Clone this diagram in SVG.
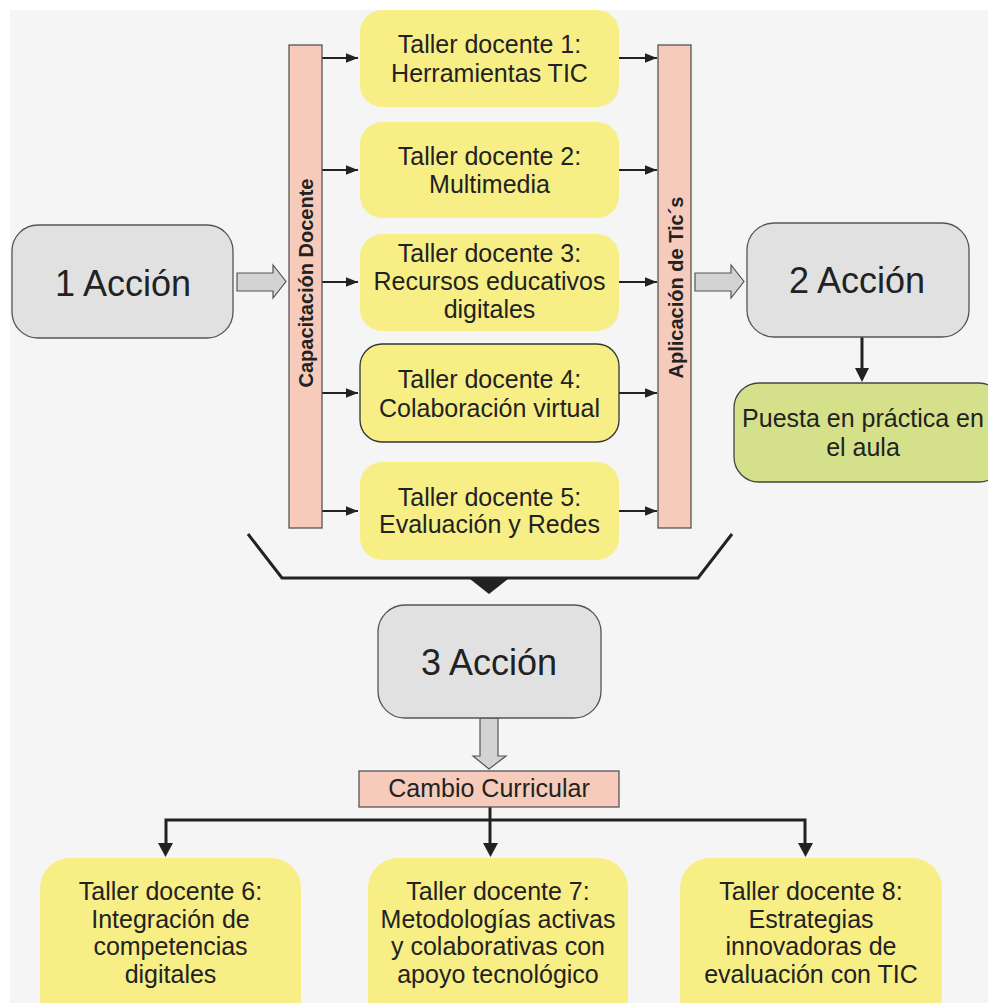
<svg xmlns="http://www.w3.org/2000/svg" width="988" height="1003" viewBox="0 0 988 1003">
<defs>
<style>
text{font-family:"Liberation Sans",Arial,sans-serif;fill:#222;text-anchor:middle}
.t{font-size:25px}
.big{font-size:36px}
.bar{font-size:20px;font-weight:bold}
.gray{fill:#e1e1e2;stroke:#555;stroke-width:1.3}
.yel{fill:#f8ee86}
.sal{fill:#f6cbbb;stroke:#555;stroke-width:1.3}
.grn{fill:#d5e08a;stroke:#444;stroke-width:1.3}
.blk{fill:#d3d3d4;stroke:#555;stroke-width:1.2}
.thin{stroke:#222;stroke-width:2;fill:none;marker-end:url(#a)}
.thick{stroke:#222;stroke-width:3;fill:none}
</style>
<marker id="a" viewBox="0 0 10 10" refX="10" refY="5" markerWidth="6" markerHeight="6" orient="auto" markerUnits="strokeWidth">
<path d="M0,1 L10,5 L0,9 Z" fill="#222"/>
</marker>
</defs>
<rect x="0" y="0" width="988" height="1003" fill="#ffffff"/>
<rect x="10" y="10" width="978" height="993" fill="#f5f5f6"/>

<g id="connectors">
<line class="thin" x1="322" y1="58" x2="358" y2="58"/>
<line class="thin" x1="322" y1="170" x2="358" y2="170"/>
<line class="thin" x1="322" y1="282" x2="358" y2="282"/>
<line class="thin" x1="322" y1="393" x2="358" y2="393"/>
<line class="thin" x1="322" y1="511" x2="358" y2="511"/>
<line class="thin" x1="619" y1="58" x2="657" y2="58"/>
<line class="thin" x1="619" y1="170" x2="657" y2="170"/>
<line class="thin" x1="619" y1="282" x2="657" y2="282"/>
<line class="thin" x1="619" y1="393" x2="657" y2="393"/>
<line class="thin" x1="619" y1="511" x2="657" y2="511"/>
<path class="blk" d="M237,273 L273,273 L273,265 L286,281.5 L273,298 L273,291 L237,291 Z"/>
<path class="blk" d="M695,273 L731,273 L731,265 L744,281.5 L731,298 L731,291 L695,291 Z"/>
<path class="thick" d="M862,337 L862,368"/>
<path d="M855,368 L869,368 L862,382 Z" fill="#222"/>
<path class="thick" d="M248,534 L282,578 L698,578 L732,534"/>
<path d="M470,579 L508,579 L489,594 Z" fill="#222"/>
<path class="blk" d="M480,718 L498,718 L498,756 L506,756 L489,769 L473,756 L480,756 Z"/>
<path class="thick" d="M490,807 L490,843"/>
<path class="thick" d="M166,843 L166,820 L805,820 L805,843"/>
<path d="M158,843 L173,843 L165.5,857 Z" fill="#222"/>
<path d="M483,843 L498,843 L490.5,857 Z" fill="#222"/>
<path d="M798,843 L813,843 L805.5,857 Z" fill="#222"/>
</g>

<g id="capacitacion">
<rect class="sal" x="289" y="45" width="33" height="483"/>
<text class="bar" transform="translate(313,283) rotate(-90)">Capacitación Docente</text>
</g>
<g id="aplicacion">
<rect class="sal" x="658" y="45" width="33" height="483"/>
<text class="bar" transform="translate(683,287.5) rotate(-90)">Aplicación de Tic´s</text>
</g>

<g id="taller1">
<rect class="yel" x="360" y="10" width="259" height="97" rx="22"/>
<text class="t" x="489.5" y="53">Taller docente 1:</text>
<text class="t" x="489.5" y="81.5">Herramientas TIC</text>
</g>
<g id="taller2">
<rect class="yel" x="360" y="122" width="259" height="96" rx="22"/>
<text class="t" x="489.5" y="165">Taller docente 2:</text>
<text class="t" x="489.5" y="193">Multimedia</text>
</g>
<g id="taller3">
<rect class="yel" x="360" y="234" width="259" height="97" rx="22"/>
<text class="t" x="489.5" y="262">Taller docente 3:</text>
<text class="t" x="489.5" y="290">Recursos educativos</text>
<text class="t" x="489.5" y="318">digitales</text>
</g>
<g id="taller4">
<rect class="yel" x="360" y="344" width="259" height="98" rx="22" stroke="#333" stroke-width="1.3"/>
<text class="t" x="489.5" y="388">Taller docente 4:</text>
<text class="t" x="489.5" y="417">Colaboración virtual</text>
</g>
<g id="taller5">
<rect class="yel" x="360" y="462" width="259" height="98" rx="22"/>
<text class="t" x="489.5" y="506">Taller docente 5:</text>
<text class="t" x="489.5" y="533">Evaluación y Redes</text>
</g>

<g id="accion1">
<rect class="gray" x="12" y="225" width="221" height="113" rx="26"/>
<text class="big" x="123" y="296">1 Acción</text>
</g>
<g id="accion2">
<rect class="gray" x="747" y="223" width="222" height="114" rx="27"/>
<text class="big" x="857" y="293">2 Acción</text>
</g>
<g id="puesta">
<rect class="grn" x="734" y="383" width="270" height="99" rx="25"/>
<text class="t" x="863" y="427">Puesta en práctica en</text>
<text class="t" x="863" y="456">el aula</text>
</g>
<g id="accion3">
<rect class="gray" x="378" y="605" width="223" height="113" rx="27"/>
<text class="big" x="489" y="675">3 Acción</text>
</g>
<g id="cambio">
<rect class="sal" x="359" y="771" width="260" height="36"/>
<text class="t" x="489" y="797">Cambio Curricular</text>
</g>

<g id="taller6">
<rect class="yel" x="40" y="858" width="261" height="170" rx="30"/>
<text class="t" x="170.5" y="900">Taller docente 6:</text>
<text class="t" x="170.5" y="927.5">Integración de</text>
<text class="t" x="170.5" y="955">competencias</text>
<text class="t" x="170.5" y="982.5">digitales</text>
</g>
<g id="taller7">
<rect class="yel" x="368" y="858" width="260" height="170" rx="30"/>
<text class="t" x="498" y="900">Taller docente 7:</text>
<text class="t" x="498" y="927.5">Metodologías activas</text>
<text class="t" x="498" y="955">y colaborativas con</text>
<text class="t" x="498" y="982.5">apoyo tecnológico</text>
</g>
<g id="taller8">
<rect class="yel" x="680" y="858" width="262" height="170" rx="30"/>
<text class="t" x="811" y="900">Taller docente 8:</text>
<text class="t" x="811" y="927.5">Estrategias</text>
<text class="t" x="811" y="955">innovadoras de</text>
<text class="t" x="811" y="982.5">evaluación con TIC</text>
</g>
</svg>
